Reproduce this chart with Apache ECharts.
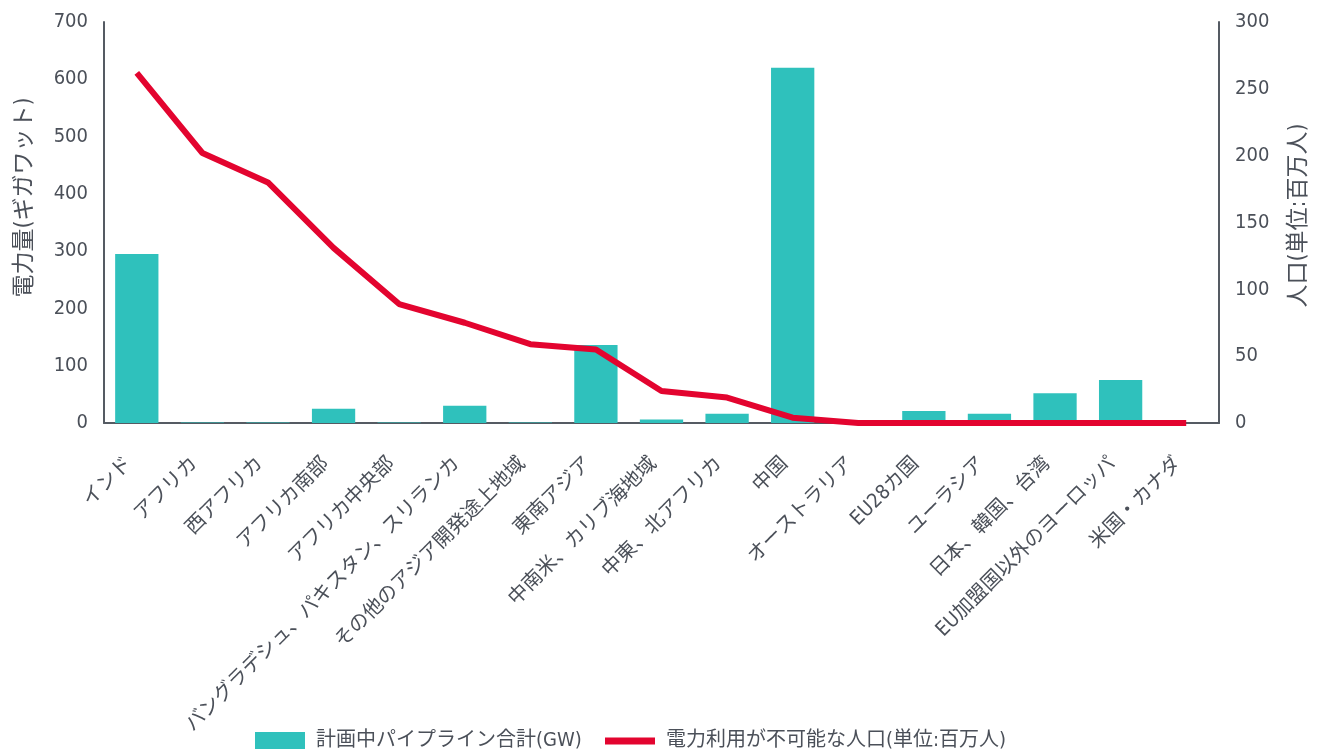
<!DOCTYPE html>
<html>
<head>
<meta charset="utf-8">
<script src="https://cdn.jsdelivr.net/npm/echarts@6/dist/echarts.min.js"></script>
<style>
  html, body { margin: 0; padding: 0; background: #fff; }
  #chart { width: 1319px; height: 749px; }
</style>
</head>
<body>
<div id="chart"></div>
<script>
// Regions
const regions = [
  'インド', 'アフリカ', '西アフリカ', 'アフリカ南部', 'アフリカ中央部',
  'バングラデシュ、パキスタン、スリランカ', 'その他のアジア開発途上地域', '東南アジア',
  '中南米、カリブ海地域', '中東、北アフリカ', '中国', 'オーストラリア', 'EU28カ国',
  'ユーラシア', '日本、韓国、台湾', 'EU加盟国以外のヨーロッパ', '米国・カナダ'
];

// Planned pipeline capacity (GW)
const pipelineGW = [295, 1, 1, 25, 1, 30, 1, 136, 6, 16, 620, 0, 21, 16, 52, 75, 0];

// Population without access to electricity (millions)
const populationNoPower = [262, 202, 180, 131, 89, 75, 59, 55, 24, 19, 4, 0, 0, 0, 0, 0, 0];

// Axis ranges
const leftAxisMax = 700, leftAxisStep = 100;
const rightAxisMax = 300, rightAxisStep = 50;

const barName = '計画中パイプライン合計(GW)';
const lineName = '電力利用が不可能な人口(単位:百万人)';

const textColor = '#4b5059';
const axisColor = '#555b63';
const barColor = '#2fc1bc';
const lineColor = '#e3042f';
const font = '"DejaVu Sans Condensed", "Noto Sans CJK JP", sans-serif';

const legendText = { color: textColor, fontSize: 20, fontFamily: font, padding: [0, 0, 0, 6] };

const chart = echarts.init(document.getElementById('chart'));
chart.setOption({
  animation: false,
  textStyle: { fontFamily: font },
  grid: { left: 104, right: 98, top: 22, bottom: 326, containLabel: false },
  legend: [
    {
      left: 250, top: 726,
      icon: 'rect', itemWidth: 50, itemHeight: 18,
      textStyle: legendText,
      data: [barName]
    },
    {
      left: 600, top: 726,
      icon: 'rect', itemWidth: 50, itemHeight: 7,
      textStyle: legendText,
      data: [lineName]
    }
  ],
  xAxis: {
    type: 'category',
    data: regions,
    axisLine: { lineStyle: { color: axisColor, width: 2 } },
    axisTick: { show: false },
    axisLabel: {
      rotate: 45,
      interval: 0,
      color: textColor,
      fontSize: 20,
      fontFamily: font,
      margin: 30,
      padding: [0, 11, 0, 0]
    }
  },
  yAxis: [
    {
      type: 'value',
      min: 0, max: leftAxisMax, interval: leftAxisStep,
      name: '電力量(ギガワット)',
      nameLocation: 'middle',
      nameRotate: 90,
      nameGap: 67,
      nameTextStyle: { color: textColor, fontSize: 23, fontFamily: font, padding: [0, 0, 0, 50] },
      axisLine: { show: true, lineStyle: { color: axisColor, width: 2 } },
      axisTick: { show: false },
      splitLine: { show: false },
      axisLabel: { color: textColor, fontSize: 20, fontFamily: font, margin: 16 }
    },
    {
      type: 'value',
      min: 0, max: rightAxisMax, interval: rightAxisStep,
      name: '人口(単位:百万人)',
      nameLocation: 'middle',
      nameRotate: 90,
      nameGap: 69,
      nameTextStyle: { color: textColor, fontSize: 23, fontFamily: font, padding: [0, 0, 0, 14] },
      position: 'right',
      axisLine: { show: true, lineStyle: { color: axisColor, width: 2 } },
      axisTick: { show: false },
      splitLine: { show: false },
      axisLabel: { color: textColor, fontSize: 20, fontFamily: font, margin: 16 }
    }
  ],
  series: [
    {
      name: barName,
      type: 'bar',
      yAxisIndex: 0,
      data: pipelineGW,
      barCategoryGap: '34%',
      itemStyle: { color: barColor }
    },
    {
      name: lineName,
      type: 'line',
      yAxisIndex: 1,
      data: populationNoPower,
      symbol: 'none',
      lineStyle: { color: lineColor, width: 6 },
      itemStyle: { color: lineColor }
    }
  ]
});
</script>
</body>
</html>
